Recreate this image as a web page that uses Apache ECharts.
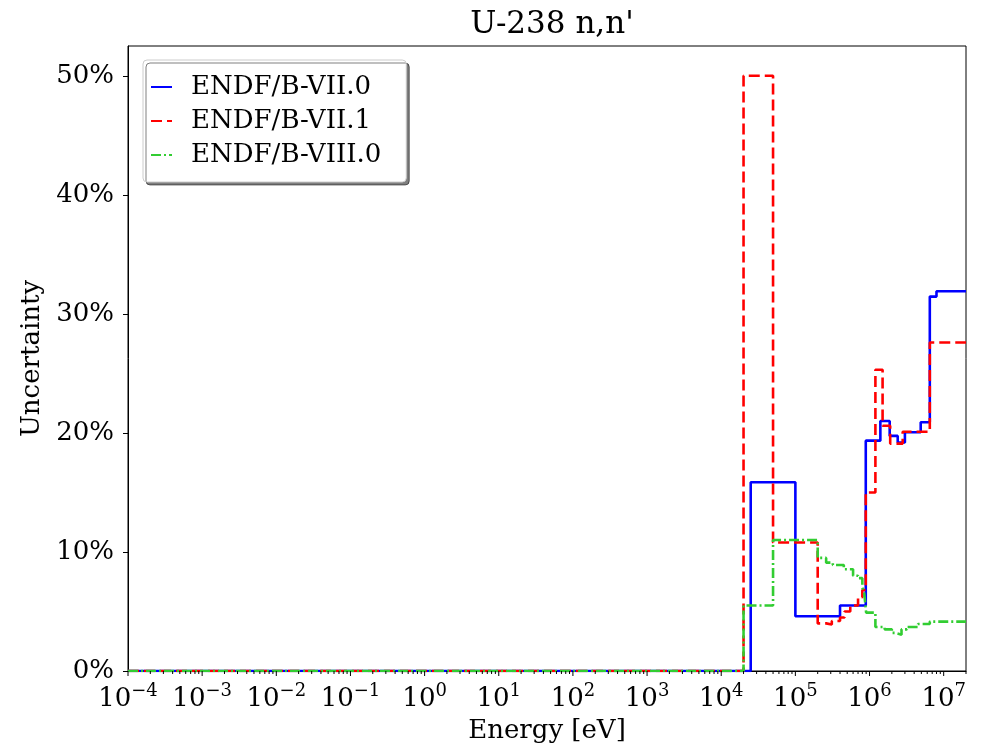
<!DOCTYPE html>
<html>
<head>
<meta charset="utf-8">
<script src="https://cdn.jsdelivr.net/npm/echarts@6/dist/echarts.min.js"></script>
<style>html,body{margin:0;padding:0;background:#fff}#c{width:984px;height:745px}</style>
</head>
<body>
<div id="c"></div>
<script>
// ---- data (step "post": value holds from energy[i] to energy[i+1]) ----
const seriesNames = ['ENDF/B-VII.0', 'ENDF/B-VII.1', 'ENDF/B-VIII.0'];

const e70 = [1e-4, 2.5e4, 1e5, 4e5, 8.9e5, 1.4e6, 1.87e6, 2.4e6, 3e6, 4.9e6, 6.5e6, 8e6, 2e7];
const u70 = [0, 15.86, 4.6, 5.5, 19.35, 21.0, 19.75, 19.2, 20.05, 20.9, 31.45, 31.9, 31.9];

const e71 = [1e-4, 2e4, 5e4, 2e5, 2.6e5, 3.1e5, 4e5, 4.6e5, 5.5e5, 7e5, 8e5, 8.9e5, 1.2e6, 1.5e6, 1.9e6, 2.8e6, 6.5e6, 2e7];
const u71 = [0, 50, 10.8, 4.0, 3.9, 4.2, 4.5, 5.0, 5.5, 6.2, 6.8, 15.0, 25.3, 20.6, 19.1, 20.1, 27.6, 27.6];

const e80 = [1e-4, 2e4, 5e4, 2e5, 2.6e5, 3.2e5, 4.5e5, 6e5, 7e5, 8e5, 8.5e5, 9e5, 1.2e6, 1.6e6, 2e6, 2.2e6, 2.7e6, 3.2e6, 4.5e6, 6.5e6, 2e7];
const u80 = [0, 5.5, 11.0, 9.5, 9.1, 8.9, 8.55, 8.0, 7.8, 7.0, 6.5, 4.9, 3.7, 3.5, 3.2, 3.05, 3.5, 3.7, 3.95, 4.15, 4.15];

const yTicks = [0, 10, 20, 30, 40, 50];
const xDecades = [-4, -3, -2, -1, 0, 1, 2, 3, 4, 5, 6, 7];

// tick marks for the log axis (major at decades, minor at k*10^n)
const xTickMarks = [];
xDecades.forEach(n => {
  xTickMarks.push([Math.pow(10, n), 0, 1]);
  for (let k = 2; k <= 9; k++) {
    const v = k * Math.pow(10, n);
    if (v <= 2e7) xTickMarks.push([v, 0, 0]);
  }
});

const FONT = 'DejaVu Serif';
const pair = (xs, ys) => xs.map((x, i) => [x, ys[i]]);

const chart = echarts.init(document.getElementById('c'), null, {renderer: 'canvas'});
chart.setOption({
  animation: false,
  backgroundColor: '#fff',
  title: {
    text: "U-238 n,n'",
    left: 547, top: 4, textAlign: 'center',
    textStyle: {fontFamily: FONT, fontSize: 31, fontWeight: 'normal', color: '#000'}
  },
  grid: {left: 128, right: 18, top: 46, bottom: 74, show: true, borderColor: '#000', borderWidth: 1,
         backgroundColor: 'transparent', containLabel: false, outerBoundsMode: 'none'},
  legend: {
    data: seriesNames,
    orient: 'vertical', left: 143, top: 60,
    padding: [14, 25, 14, 7], itemGap: 8, itemWidth: 21, itemHeight: 14,
    itemStyle: {opacity: 0},
    backgroundColor: '#fff', borderColor: '#cccccc', borderWidth: 1, borderRadius: 4,
    shadowColor: 'rgba(0,0,0,0.5)', shadowBlur: 0, shadowOffsetX: 3, shadowOffsetY: 3,
    textStyle: {fontFamily: FONT, fontSize: 26, color: '#000', padding: [0, 0, 0, 14]}
  },
  xAxis: {
    type: 'log', logBase: 10, min: 1e-4, max: 2e7, interval: 1, splitNumber: 11,
    name: 'Energy [eV]', nameLocation: 'middle', nameGap: 47,
    nameTextStyle: {fontFamily: FONT, fontSize: 26, color: '#000'},
    axisLine: {lineStyle: {color: '#000', width: 1}},
    axisTick: {show: false},
    splitLine: {show: false},
    axisLabel: {
      margin: 11, showMaxLabel: false,
      formatter: v => {
        const e = Math.round(Math.log10(v));
        return '{b|10}{s|' + (e < 0 ? '\u2212' + (-e) : e) + '}';
      },
      rich: {
        b: {fontFamily: FONT, fontSize: 26, color: '#000', lineHeight: 30, verticalAlign: 'bottom'},
        s: {fontFamily: FONT, fontSize: 18, color: '#000', lineHeight: 30, verticalAlign: 'top'}
      }
    }
  },
  yAxis: {
    type: 'value', min: 0, max: 52.5, interval: 10,
    name: 'Uncertainty', nameLocation: 'middle', nameGap: 80,
    nameTextStyle: {fontFamily: FONT, fontSize: 26, color: '#000'},
    axisLine: {show: true, lineStyle: {color: '#000', width: 1}},
    axisTick: {show: true, length: 5, lineStyle: {color: '#000'}, customValues: yTicks},
    splitLine: {show: false},
    axisLabel: {
      margin: 14, fontFamily: FONT, fontSize: 26, color: '#000',
      customValues: yTicks, showMaxLabel: true,
      formatter: v => v + '%'
    }
  },
  series: [
    {name: seriesNames[0], type: 'line', step: 'end', symbol: 'none', clip: true,
     data: pair(e70, u70), lineStyle: {color: '#0000ff', width: 2.6}, itemStyle: {color: '#0000ff'}},
    {name: seriesNames[1], type: 'line', step: 'end', symbol: 'none', clip: true,
     data: pair(e71, u71), lineStyle: {color: '#ff0000', width: 2.6, type: [11, 5]}, itemStyle: {color: '#ff0000'}},
    {name: seriesNames[2], type: 'line', step: 'end', symbol: 'none', clip: true,
     data: pair(e80, u80), lineStyle: {color: '#32cd32', width: 2.6, type: [10, 3, 2, 3]}, itemStyle: {color: '#32cd32'}},
    {name: 'xticks', type: 'custom', silent: true, clip: false, z: 5,
     data: xTickMarks,
     renderItem: (params, api) => {
       const p = api.coord([api.value(0), api.value(1)]);
       const len = api.value(2) === 1 ? 5 : 3;
       return {type: 'line', shape: {x1: p[0], y1: p[1], x2: p[0], y2: p[1] + len},
               style: {stroke: '#000', lineWidth: 1}};
     }}
  ]
});
</script>
</body>
</html>
